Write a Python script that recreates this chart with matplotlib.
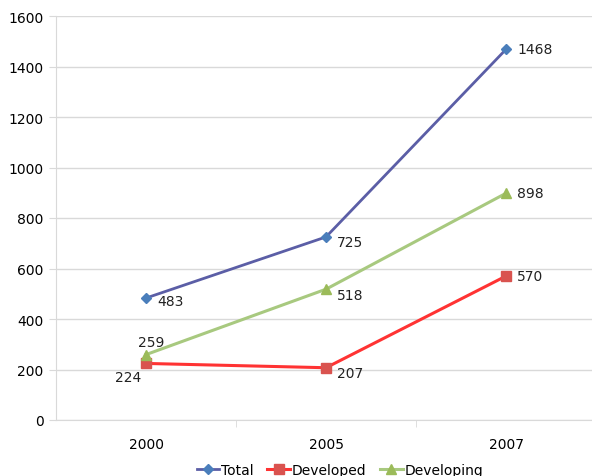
import numpy as np
import matplotlib.pyplot as plt

years = ['2000', '2005', '2007']
total = [483, 725, 1468]
developed = [224, 207, 570]
developing = [259, 518, 898]

fig = plt.figure(figsize=(5.92, 4.77), dpi=100)
ax = fig.add_axes([56 / 592, 56 / 477, 540 / 592, 404 / 477])

x = np.arange(len(years))
grid_c = '#d9d9d9'

ax.plot(x, total, color='#5b5ea6', lw=2, marker='D', ms=5,
        mfc='#4a7ebb', mec='#4a7ebb', label='Total', zorder=3)
ax.plot(x, developed, color='#ff3333', lw=2.2, marker='s', ms=7,
        mfc='#d9534f', mec='#d9534f', label='Developed', zorder=3)
ax.plot(x, developing, color='#a8c97f', lw=2.2, marker='^', ms=7,
        mfc='#9bbb59', mec='#9bbb59', label='Developing', zorder=3)

# data labels
lab = dict(fontsize=10, color='#222222')
offs_total = [(8, -2), (8, -4), (8, 0)]
for i, v in enumerate(total):
    ax.annotate(str(v), (x[i], v), xytext=offs_total[i], textcoords='offset points',
                ha='left', va='center', **lab)
offs_dev = [(-22, -10), (8, -4), (8, 0)]
for i, v in enumerate(developed):
    ax.annotate(str(v), (x[i], v), xytext=offs_dev[i], textcoords='offset points',
                ha='left', va='center', **lab)
offs_dvg = [(-6, 9), (8, -4), (8, 0)]
for i, v in enumerate(developing):
    ax.annotate(str(v), (x[i], v), xytext=offs_dvg[i], textcoords='offset points',
                ha='left', va='center', **lab)

ax.set_xlim(-0.5, 2.5)
ax.set_ylim(0, 1600)
ax.set_yticks(np.arange(0, 1601, 200))
ax.set_xticks(x)
ax.set_xticklabels(years)
ax.set_xticks([0.5, 1.5], minor=True)
ax.tick_params(axis='x', which='major', length=0, pad=12, labelsize=10)
ax.tick_params(axis='x', which='minor', length=5, color=grid_c)
ax.tick_params(axis='y', length=5, color=grid_c, labelsize=10, pad=4)
ax.yaxis.grid(True, color=grid_c, lw=1)
ax.set_axisbelow(True)
for s in ['top', 'right']:
    ax.spines[s].set_visible(False)
for s in ['left', 'bottom']:
    ax.spines[s].set_color(grid_c)

fig.legend(loc='center', bbox_to_anchor=(340 / 592, 6 / 477), ncol=3, frameon=False,
           fontsize=10, handlelength=1.6, columnspacing=1.0, handletextpad=0.15)

fig.savefig('out.png', dpi=100)
